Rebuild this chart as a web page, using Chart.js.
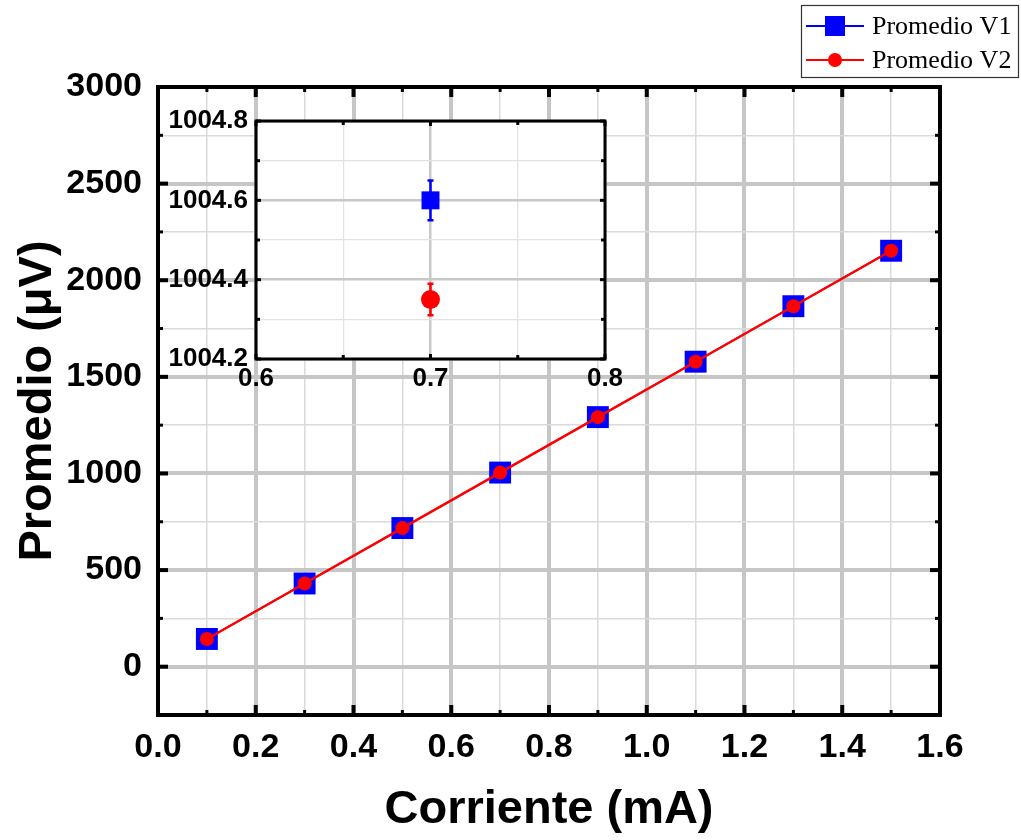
<!DOCTYPE html>
<html><head><meta charset="utf-8">
<script src="https://cdn.jsdelivr.net/npm/chart.js@4.4.0/dist/chart.umd.min.js"></script>
<style>
html,body{margin:0;padding:0;background:#fff;}
#wrap{position:relative;width:1021px;height:840px;overflow:hidden;}
#main{position:absolute;left:0;top:0;}
#inset{position:absolute;left:150px;top:95px;}
</style></head><body>
<div id="wrap"><canvas id="main" width="1021" height="840"></canvas><canvas id="inset" width="480" height="300"></canvas></div>
<script>
// ---- data ----
const current = [0.1, 0.3, 0.5, 0.7, 0.9, 1.1, 1.3, 1.5];
const promedioV1 = [143.5, 430.6, 717.5, 1004.6, 1291.6, 1578.5, 1865.6, 2152.6];
const promedioV2 = [143.3, 430.4, 717.3, 1004.35, 1291.4, 1578.3, 1865.4, 2152.4];
const errV1 = [null, null, null, 0.05, null, null, null, null];
const errV2 = [null, null, null, 0.04, null, null, null, null];
const seriesLabels = ['Promedio V1', 'Promedio V2'];
const xTitle = 'Corriente (mA)';
const yTitle = 'Promedio (\u03BCV)';

const BLUE = '#0000ff', RED = '#ff0000';
const pts = (ys) => current.map((x, i) => ({x, y: ys[i]}));

const framePlugin = {
  id: 'frame',
  afterDatasetsDraw(chart, args, o) {
    const {ctx, chartArea: a, scales: {x, y}} = chart;
    ctx.save();
    ctx.strokeStyle = '#000';
    const seg = (x1, y1, x2, y2) => { ctx.beginPath(); ctx.moveTo(x1, y1); ctx.lineTo(x2, y2); ctx.stroke(); };
    x.ticks.forEach(t => {
      const px = x.getPixelForValue(t.value);
      const mj = o.majX(t.value);
      ctx.lineWidth = mj ? o.majW : o.minW;
      const L = mj ? o.majL : o.minL;
      seg(px, a.bottom, px, a.bottom - L);
      seg(px, a.top, px, a.top + L);
    });
    y.ticks.forEach(t => {
      const py = y.getPixelForValue(t.value);
      const mj = o.majY(t.value);
      ctx.lineWidth = mj ? o.majW : o.minW;
      const L = mj ? o.majL : o.minL;
      seg(a.left, py, a.left + L, py);
      seg(a.right, py, a.right - L, py);
    });
    ctx.lineWidth = o.border;
    ctx.strokeRect(a.left, a.top, a.right - a.left, a.bottom - a.top);
    ctx.restore();
  }
};

const legendPlugin = {
  id: 'boxlegend',
  afterDraw(chart) {
    const ctx = chart.ctx;
    ctx.save();
    ctx.fillStyle = '#fff';
    ctx.fillRect(801, 5, 218, 73);
    ctx.strokeStyle = '#333';
    ctx.lineWidth = 1.2;
    ctx.strokeRect(801.5, 5.5, 217, 72);
    const rows = [26, 60];
    chart.data.datasets.forEach((ds, i) => {
      const yy = rows[i];
      ctx.strokeStyle = ds.borderColor;
      ctx.lineWidth = 2;
      ctx.beginPath(); ctx.moveTo(806, yy); ctx.lineTo(864, yy); ctx.stroke();
      ctx.fillStyle = ds.backgroundColor;
      if (ds.pointStyle === 'rect') {
        ctx.fillRect(825, yy - 10, 20, 20);
      } else {
        ctx.beginPath(); ctx.arc(835, yy, 7, 0, Math.PI * 2); ctx.fill();
      }
      ctx.fillStyle = '#000';
      ctx.font = '26px "Liberation Serif", "Times New Roman", serif';
      ctx.textBaseline = 'middle';
      ctx.fillText(ds.label, 872, yy + 1);
    });
    ctx.restore();
  }
};

const isMajX = v => Math.round(v * 10) % 2 === 0;
const isMajY = v => Math.round(v) % 500 === 0;
const tickFont = {family: '"Liberation Sans", Arial, sans-serif', weight: 'bold', size: 34};
const titleFont = {family: '"Liberation Sans", Arial, sans-serif', weight: 'bold', size: 47};

new Chart(document.getElementById('main'), {
  type: 'line',
  data: {
    datasets: [
      {label: seriesLabels[0], data: pts(promedioV1), borderColor: BLUE, backgroundColor: BLUE,
       borderWidth: 1.5, pointStyle: 'rect', pointRadius: 15.5, pointBorderWidth: 0, order: 1},
      {label: seriesLabels[1], data: pts(promedioV2), borderColor: RED, backgroundColor: RED,
       borderWidth: 2.5, pointStyle: 'circle', pointRadius: 7, pointBorderWidth: 0, order: 0}
    ]
  },
  options: {
    responsive: false, animation: false,
    layout: {padding: {top: 87, right: 81, left: 0, bottom: 0}},
    plugins: {
      legend: {display: false}, tooltip: {enabled: false},
      frame: {majX: isMajX, majY: isMajY, majW: 4, minW: 3, majL: 10, minL: 5, border: 4}
    },
    scales: {
      x: {
        type: 'linear', min: 0, max: 1.6,
        afterFit(s) { s.height = 125; },
        border: {display: false},
        grid: {drawTicks: false,
          color: c => isMajX(c.tick.value) ? '#c6c6c6' : '#dadada',
          lineWidth: c => isMajX(c.tick.value) ? 4 : 1.5},
        ticks: {stepSize: 0.1, autoSkip: false, maxRotation: 0, padding: 12, color: '#000', font: tickFont,
          callback: v => isMajX(v) ? (Math.round(v * 10) / 10).toFixed(1) : ''},
        title: {display: true, text: xTitle, color: '#000', font: titleFont, padding: {top: 0, bottom: 2}}
      },
      y: {
        type: 'linear', min: -250, max: 3000,
        afterFit(s) { s.width = 158; },
        border: {display: false},
        grid: {drawTicks: false,
          color: c => isMajY(c.tick.value) ? '#c6c6c6' : '#dadada',
          lineWidth: c => isMajY(c.tick.value) ? 4 : 1.5},
        ticks: {stepSize: 250, autoSkip: false, padding: 16, color: '#000', font: tickFont,
          callback: v => isMajY(v) ? String(Math.round(v)) : ''},
        title: {display: true, text: yTitle, color: '#000', font: titleFont, padding: {top: 10, bottom: 0}}
      }
    }
  },
  plugins: [framePlugin, legendPlugin]
});

// ---- inset ----
const insetBg = {
  id: 'insetBg',
  beforeDraw(chart) {
    const {ctx, chartArea: a} = chart;
    ctx.save(); ctx.fillStyle = '#fff';
    ctx.fillRect(a.left, a.top, a.right - a.left, a.bottom - a.top);
    ctx.restore();
  }
};
const errPlugin = {
  id: 'errbars',
  beforeDatasetsDraw(chart) {
    const {ctx, scales: {x, y}, chartArea: a} = chart;
    const errs = [errV1, errV2];
    ctx.save();
    ctx.beginPath(); ctx.rect(a.left, a.top, a.right - a.left, a.bottom - a.top); ctx.clip();
    chart.data.datasets.forEach((ds, i) => {
      ctx.strokeStyle = ds.borderColor;
      ctx.lineWidth = 2.5;
      ds.data.forEach((p, j) => {
        const e = errs[i][j];
        if (e == null) return;
        const px = x.getPixelForValue(p.x);
        const y1 = y.getPixelForValue(p.y - e), y2 = y.getPixelForValue(p.y + e);
        ctx.beginPath();
        ctx.moveTo(px, y1); ctx.lineTo(px, y2);
        ctx.moveTo(px - 3, y1); ctx.lineTo(px + 3, y1);
        ctx.moveTo(px - 3, y2); ctx.lineTo(px + 3, y2);
        ctx.stroke();
      });
    });
    ctx.restore();
  }
};
const isMajXi = v => Math.round(v * 100) % 10 === 0;
const isMajYi = v => Math.round(v * 10) % 2 === 0;
const insetFont = {family: '"Liberation Sans", Arial, sans-serif', weight: 'bold', size: 26};

new Chart(document.getElementById('inset'), {
  type: 'line',
  data: {
    datasets: [
      {label: seriesLabels[0], data: pts(promedioV1), borderColor: BLUE, backgroundColor: BLUE,
       showLine: false, pointStyle: 'rect', pointRadius: 12.7, pointBorderWidth: 0, order: 1},
      {label: seriesLabels[1], data: pts(promedioV2), borderColor: RED, backgroundColor: RED,
       showLine: false, pointStyle: 'circle', pointRadius: 9.5, pointBorderWidth: 0, order: 0}
    ]
  },
  options: {
    responsive: false, animation: false,
    layout: {padding: {top: 26, right: 25, left: 0, bottom: 0}},
    plugins: {
      legend: {display: false}, tooltip: {enabled: false},
      frame: {majX: isMajXi, majY: isMajYi, majW: 3, minW: 3, majL: 5, minL: 4, border: 3}
    },
    scales: {
      x: {
        type: 'linear', min: 0.6, max: 0.8,
        afterFit(s) { s.height = 36; },
        border: {display: false},
        grid: {drawTicks: false,
          color: c => isMajXi(c.tick.value) ? '#c8c8c8' : '#e2e2e2',
          lineWidth: c => isMajXi(c.tick.value) ? 2.5 : 1.2},
        ticks: {stepSize: 0.05, autoSkip: false, maxRotation: 0, padding: 4, color: '#000', font: insetFont,
          callback: v => isMajXi(v) ? (Math.round(v * 10) / 10).toFixed(1) : ''}
      },
      y: {
        type: 'linear', min: 1004.2, max: 1004.8,
        afterFit(s) { s.width = 106; },
        border: {display: false},
        grid: {drawTicks: false,
          color: c => isMajYi(c.tick.value) ? '#c8c8c8' : '#e2e2e2',
          lineWidth: c => isMajYi(c.tick.value) ? 2.5 : 1.2},
        ticks: {stepSize: 0.1, autoSkip: false, padding: 8, color: '#000', font: insetFont,
          callback: v => isMajYi(v) ? (Math.round(v * 10) / 10).toFixed(1) : ''}
      }
    }
  },
  plugins: [insetBg, errPlugin, framePlugin]
});
</script>
</body></html>
